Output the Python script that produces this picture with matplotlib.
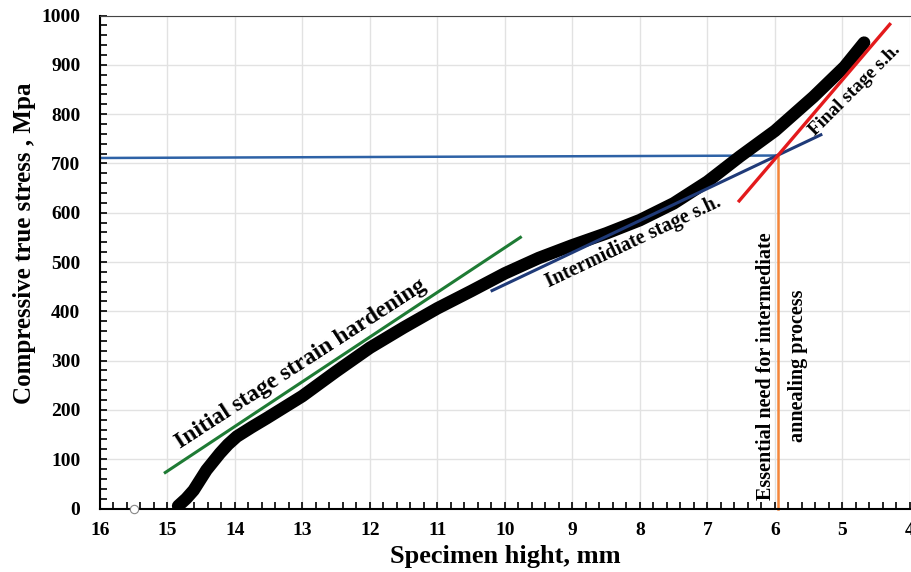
import numpy as np
import matplotlib
matplotlib.use("Agg")
import matplotlib.pyplot as plt

plt.rcParams["font.family"] = ["Liberation Serif", "DejaVu Serif"]
plt.rcParams["font.weight"] = "bold"

# compression curve
hauteur = [14.84, 14.72, 14.61, 14.42, 14.22, 14.1, 13.97, 13.75, 13.53, 13.0, 12.5,
           12.0, 11.5, 11.0, 10.5, 10.0, 9.5, 9.0, 8.5, 8.0, 7.5, 7.0, 6.52, 6.0,
           5.43, 4.97, 4.68]
contrainte = [5, 20, 37, 78, 112, 130, 146, 165, 183, 228, 278,
              326, 367, 406, 441, 477, 508, 534, 558, 585, 619, 663, 714, 766,
              835, 896, 945]

# tangent lines for the three stages
initial_x = [15.03, 9.77]
initial_y = [73, 550]
inter_x = [10.19, 5.32]
inter_y = [442, 758]
final_x = [6.53, 4.30]
final_y = [624, 982]

# intersection guides
guide_h_x = [16.0, 5.96]
guide_h_y = [711, 716]
guide_v_x = [5.96, 5.96]
guide_v_y = [0, 716]

point_isole_x = [15.5]
point_isole_y = [0]

x_ticks = [16, 15, 14, 13, 12, 11, 10, 9, 8, 7, 6, 5, 4]
y_ticks = [0, 100, 200, 300, 400, 500, 600, 700, 800, 900, 1000]

fig = plt.figure(figsize=(9.12, 5.72), dpi=100)
ax = fig.add_axes([0.1094, 0.111, 0.8884, 0.8619])

ax.grid(True, color="#e2e2e2", linewidth=1.0, zorder=0)
ax.set_axisbelow(True)

ax.plot(guide_h_x, guide_h_y, color="#2e62a6", linewidth=1.8, zorder=2)
ax.plot(guide_v_x, guide_v_y, color="#f4863b", linewidth=1.8, zorder=2, clip_on=False)
ax.plot(hauteur, contrainte, color="black", linewidth=9, solid_capstyle="round",
        solid_joinstyle="round", zorder=3)
ax.plot(initial_x, initial_y, color="#1e7b34", linewidth=2.2, zorder=4)
ax.plot(inter_x, inter_y, color="#1f3a78", linewidth=2.2, zorder=4)
ax.plot(final_x, final_y, color="#e31a1c", linewidth=2.4, zorder=4)
ax.plot(point_isole_x, point_isole_y, "o", markersize=6, markerfacecolor="white",
        markeredgecolor="#888888", markeredgewidth=0.8, clip_on=False, zorder=5)

ax.set_xlim(16, 4)
ax.set_ylim(0, 1000)
ax.set_xticks(x_ticks)
ax.set_yticks(y_ticks)
ax.set_xticks(np.arange(4, 16.01, 0.2), minor=True)
ax.set_yticks(np.arange(0, 1000.1, 20), minor=True)
ax.tick_params(axis="both", which="both", direction="in", length=5, width=1.2, color="black")
ax.tick_params(axis="x", which="major", pad=10, labelsize=14)
ax.tick_params(axis="y", which="major", pad=14, labelsize=14)
for lab in ax.get_xticklabels() + ax.get_yticklabels():
    lab.set_fontweight("bold")

ax.spines["right"].set_visible(False)
ax.spines["left"].set_linewidth(1.5)
ax.spines["bottom"].set_linewidth(1.5)
ax.spines["top"].set_color("#444444")

ax.set_xlabel("Specimen hight, mm", fontsize=19, fontweight="bold", va="top")
ax.xaxis.set_label_coords(0.5, -0.074)
ax.set_ylabel("Compressive true stress , Mpa", fontsize=18, fontweight="bold")
ax.yaxis.set_label_coords(-0.0787, 0.5375)

ax.text(13.02, 293, "Initial stage strain hardening", rotation=33, fontsize=17,
        fontweight="bold", ha="center", va="center", rotation_mode="anchor")
ax.text(8.10, 540, "Intermidiate stage s.h.", rotation=25.3, fontsize=14.5,
        fontweight="bold", ha="center", va="center", rotation_mode="anchor")
ax.text(4.82, 849, "Final stage s.h.", rotation=45, fontsize=13.8,
        fontweight="bold", ha="center", va="center", rotation_mode="anchor")
ax.text(6.13, 289, "Essential need for intermediate", rotation=90, fontsize=14.5,
        fontweight="bold", ha="center", va="center")
ax.text(5.66, 289, "annealing process", rotation=90, fontsize=14.5,
        fontweight="bold", ha="center", va="center")

fig.savefig("out.png", dpi=100)
